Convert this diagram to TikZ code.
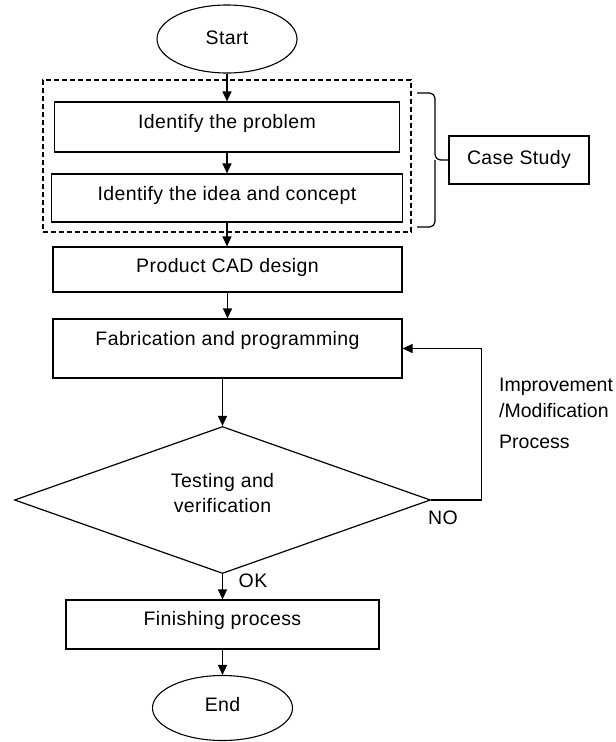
\documentclass[tikz,border=0pt]{standalone}
\usepackage{fontspec}
\setmainfont{Liberation Sans}[LetterSpace=2]
\usetikzlibrary{shapes.geometric,arrows.meta}
\newcommand\liftt[2]{\raisebox{#1}[0pt][0pt]{#2}}
\begin{document}
\begin{tikzpicture}[x=1pt,y=-1pt,
  every node/.style={font=\fontsize{19.5}{25}\selectfont, inner sep=0pt},
  proc/.style={draw, line width=1.2pt, rectangle},
  term/.style={draw, line width=1.1pt, ellipse},
  arr/.style={line width=1.2pt, -{Triangle[length=10pt,width=9pt]}},
  ln/.style={line width=1.2pt},
  grpbox/.style={draw, dash pattern=on 5pt off 3pt, line width=1.2pt}
]
\useasboundingbox (0,0) rectangle (616,742);

\node[term, minimum width=140pt, minimum height=68pt] (start) at (227,39) {\liftt{-5pt}{Start}};
\node[grpbox, minimum width=368pt, minimum height=152pt] (grp) at (227,156) {};
\node[proc, minimum width=345pt, minimum height=50pt] (b1) at (227,127) {\liftt{-1pt}{Identify the problem}};
\node[proc, minimum width=351pt, minimum height=48pt] (b2) at (227,198) {\liftt{-2pt}{Identify the idea and concept}};
\node[proc, minimum width=349pt, minimum height=45pt] (cad) at (227.5,269.5) {\liftt{-2.5pt}{Product CAD design}};
\node[proc, minimum width=349pt, minimum height=59pt] (fab) at (227.5,348.5) {\liftt{3.5pt}{Fabrication and programming}};
\node[draw, diamond, line width=1.2pt, minimum width=416pt, minimum height=147pt] (dia) at (222.5,500)
  {\raisebox{0pt}[0pt][0pt]{\begin{tabular}{@{}c@{}}Testing and\\verification\end{tabular}}};
\node[proc, minimum width=313pt, minimum height=49pt] (fin) at (222.5,624.5) {\liftt{-0.5pt}{Finishing process}};
\node[term, minimum width=140pt, minimum height=65pt] (end) at (222.5,708) {\liftt{-3pt}{End}};
\node[proc, minimum width=140pt, minimum height=48pt] (cs) at (519,160) {\liftt{-4pt}{Case Study}};

\node (ok) at (253,581) {OK};
\node (no) at (443,518) {NO};
\node[anchor=north west, align=left, font=\fontsize{19.5}{26}\selectfont\addfontfeatures{LetterSpace=0}] (imp) at (499,378)
  {Improvement\\/Modification\\[5pt]Process};

% brace
\coordinate (bt) at (417,93);
\coordinate (bb) at (417,227);
\coordinate (bm) at (435,160);
\draw[ln, rounded corners=6pt] (bt) -- (bt -| bm) -- (bm) -- (cs.west);
\draw[ln, rounded corners=6pt] (bb) -- (bb -| bm) -- (bm);

% flow
\draw[arr] (start) -- (b1);
\draw[arr] (b1) -- (b2);
\draw[arr] (b2.south) -- (b2.south |- cad.north);
\draw[arr] (cad.south) -- (cad.south |- fab.north);
\draw[arr] (dia.north |- fab.south) -- (dia.north);
\draw[arr] (dia.south) -- (fin.north);
\draw[arr] (fin) -- (end);
\draw[arr] (dia.east) -- ++(50,0) |- (fab.east);
\end{tikzpicture}
\end{document}
